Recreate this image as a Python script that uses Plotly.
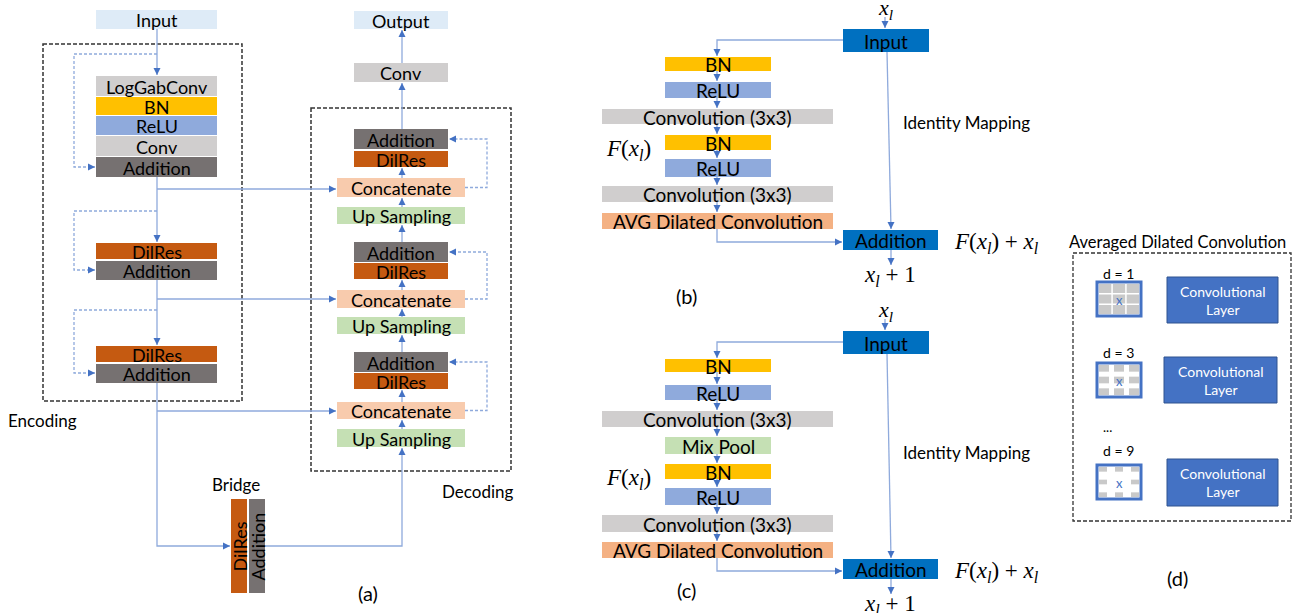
import plotly.graph_objects as go

# ---------------- data: labels of the diagram ----------------
enc_labels = ["LogGabConv", "BN", "ReLU", "Conv", "Addition"]
res_labels = ["DilRes", "Addition"]
dec_labels = ["Addition", "DilRes", "Concatenate", "Up Sampling"]
io_labels = ["Input", "Conv", "Output"]
bridge_labels = ["DilRes", "Addition"]
section_labels = ["Encoding", "Decoding", "Bridge"]
b_labels = ["BN", "ReLU", "Convolution (3x3)", "BN", "ReLU",
            "Convolution (3x3)", "AVG Dilated Convolution"]
c_labels = ["BN", "ReLU", "Convolution (3x3)", "Mix Pool", "BN", "ReLU",
            "Convolution (3x3)", "AVG Dilated Convolution"]
res_io_labels = ["Input", "Addition", "Identity Mapping"]
d_title = "Averaged Dilated Convolution"
d_dilations = ["1", "3", "9"]
d_layer_label = "Convolutional<br>Layer"
panel_tags = ["(a)", "(b)", "(c)", "(d)"]

# ---------------- layout (pixel geometry) ----------------
W, H = 1299, 613
SANS = "Lato"
SERIF = "Liberation Serif"

COL = {
    "Input": "#DEEBF7", "Output": "#DEEBF7", "Conv": "#D0CECE", "LogGabConv": "#D0CECE",
    "BN": "#FFC000", "ReLU": "#8FAADC", "Addition": "#767171", "DilRes": "#C55A11",
    "Concatenate": "#F8CBAD", "Up Sampling": "#C5E0B4", "Convolution (3x3)": "#D0CECE",
    "AVG Dilated Convolution": "#F4B183", "Mix Pool": "#C5E0B4",
}
LINE = "#8FAADC"
ARROW = "#4472C4"
DARKBLUE = "#0070C0"
LAYERBLUE = "#4472C4"

shapes, annots = [], []


def rect(x0, y0, x1, y1, fill, lc=None, lw=0, dash=None):
    shapes.append(dict(type="rect", xref="x", yref="y", x0=x0, y0=y0, x1=x1, y1=y1,
                       fillcolor=fill, line=dict(color=lc or fill, width=lw, dash=dash)))


def text(x, y, s, size=18, color="#000", family=SANS, angle=0, xanchor="center"):
    annots.append(dict(x=x, y=y, xref="x", yref="y", text=s, showarrow=False,
                       font=dict(size=size, color=color, family=family),
                       textangle=angle, xanchor=xanchor, yanchor="middle", borderpad=0))


def box(x0, y0, x1, y1, label, size=18, fill=None, color="#000", angle=0):
    rect(x0, y0, x1, y1, fill or COL[label])
    text((x0 + x1) / 2, (y0 + y1) / 2 + 0.5, label, size=size, color=color, angle=angle)


def poly(pts, color=LINE, width=1.3, dash=None):
    path = "M " + " L ".join(f"{x},{y}" for x, y in pts)
    shapes.append(dict(type="path", xref="x", yref="y", path=path,
                       line=dict(color=color, width=width, dash=dash)))


def head(x, y, d, L=7, w=3.5):
    if d == "down":
        p = [(x, y), (x - w, y - L), (x + w, y - L)]
    elif d == "up":
        p = [(x, y), (x - w, y + L), (x + w, y + L)]
    elif d == "right":
        p = [(x, y), (x - L, y - w), (x - L, y + w)]
    else:
        p = [(x, y), (x + L, y - w), (x + L, y + w)]
    path = "M " + " L ".join(f"{a},{b}" for a, b in p) + " Z"
    shapes.append(dict(type="path", xref="x", yref="y", path=path,
                       fillcolor=ARROW, line=dict(color=ARROW, width=0)))


def arrow(pts, d, dash=None):
    poly(pts, dash=dash)
    head(pts[-1][0], pts[-1][1], d)


DASH = "3px,2px"

# ======================= panel (a) =======================
rect(43, 44, 242, 401, "rgba(0,0,0,0)", "#333333", 1.5, "4px,2px")
rect(311, 108, 511, 471, "rgba(0,0,0,0)", "#333333", 1.5, "4px,2px")

EX0, EX1, EXC = 96, 217, 157
box(EX0, 10, EX1, 29, io_labels[0])
enc_y = [(76, 96), (97, 115), (116, 135), (136, 156), (157, 177)]
for lab, (y0, y1) in zip(enc_labels, enc_y):
    box(EX0, y0, EX1, y1, lab)
res_y = [[(243, 259), (261, 280)], [(346, 362), (364, 383)]]
for blk in res_y:
    for lab, (y0, y1) in zip(res_labels, blk):
        box(EX0, y0, EX1, y1, lab)

arrow([(EXC, 29), (EXC, 75)], "down")
arrow([(EXC, 177), (EXC, 242)], "down")
arrow([(EXC, 280), (EXC, 345)], "down")
arrow([(EXC, 383), (EXC, 546), (230, 546)], "right")
for ytop, yadd in [(54, 167), (211, 270), (310, 373)]:
    poly([(EXC, ytop), (74, ytop), (74, yadd), (95, yadd)], dash=DASH)
    head(95, yadd, "right")

DN0, DN1, DW0, DW1, DC = 354, 448, 337, 465, 402
box(DN0, 11, DN1, 29, io_labels[2])
box(DN0, 63, DN1, 82, io_labels[1])
dec_y = [
    [(129, 149), (151, 167), (178, 197), (207, 224)],
    [(242, 262), (263, 279), (290, 308), (317, 334)],
    [(352, 372), (373, 389), (402, 419), (429, 447)],
]
for grp in dec_y:
    for lab, (y0, y1) in zip(dec_labels, grp):
        if lab in ("Concatenate", "Up Sampling"):
            box(DW0, y0, DW1, y1, lab)
        else:
            box(DN0, y0, DN1, y1, lab)

arrow([(DC, 63), (DC, 30)], "up")
arrow([(DC, 129), (DC, 83)], "up")
for i, grp in enumerate(dec_y):
    (a0, a1), (d0, d1), (c0, c1), (u0, u1) = grp
    arrow([(DC, c0), (DC, d1 + 1)], "up")
    arrow([(DC, u0), (DC, c1 + 1)], "up")
    if i + 1 < len(dec_y):
        arrow([(DC, dec_y[i + 1][0][0]), (DC, u1 + 1)], "up")
    cy, ay = (c0 + c1) / 2, (a0 + a1) / 2
    poly([(DW1, cy), (487, cy), (487, ay), (450, ay)], dash=DASH)
    head(449, ay, "left")

for y in (189, 299, 411):
    arrow([(EXC, y), (DW0 - 1, y)], "right")

box(231, 499, 247, 593, bridge_labels[0], angle=-90)
box(249, 499, 265, 593, bridge_labels[1], angle=-90)
arrow([(265, 546), (DC, 546), (DC, 448)], "up")

text(42, 420, section_labels[0], size=17)
text(477, 491, section_labels[1], size=17)
text(236, 484, section_labels[2], size=17)
text(368, 593, panel_tags[0], size=20)

# ======================= panels (b) and (c) =======================
NX0, NX1, WX0, WX1, MX = 665, 771, 602, 833, 717
IX0, IX1, AX1 = 843, 929, 938


def res_panel(labels, ys, top, addy, linky, tag, tagy, imy, fy):
    text(885, top - 20, "<i>x<sub>l</sub></i>", size=22, family=SERIF)
    arrow([(885, top - 12), (885, top - 1)], "down")
    rect(IX0, top, IX1, top + 23, DARKBLUE)
    text((IX0 + IX1) / 2, top + 12, res_io_labels[0], size=19)
    arrow([(IX0, top + 11), (MX, top + 11), (MX, ys[0][0] - 1)], "down")
    for i, (lab, (y0, y1)) in enumerate(zip(labels, ys)):
        wide = lab.startswith("Conv") or lab.startswith("AVG")
        box(WX0 if wide else NX0, y0, WX1 if wide else NX1, y1, lab, size=19)
        if i + 1 < len(ys):
            arrow([(MX, y1), (MX, ys[i + 1][0] - 1)], "down")
    arrow([(MX, ys[-1][1]), (MX, linky), (IX0 - 1, linky)], "right")
    arrow([(887, top + 23), (891, addy - 1)], "down")
    text(966, imy, res_io_labels[2], size=17)
    rect(IX0, addy, AX1, addy + 20, DARKBLUE)
    text((IX0 + AX1) / 2, addy + 10.5, res_io_labels[1], size=19)
    arrow([(891, addy + 20), (891, addy + 35)], "down")
    text(890, addy + 46, "<i>x<sub>l</sub></i> + 1", size=23, family=SERIF)
    text(996, addy + 13, "<i>F</i>(<i>x<sub>l</sub></i>) + <i>x<sub>l</sub></i>", size=23, family=SERIF)
    text(628, fy, "<i>F</i>(<i>x<sub>l</sub></i>)", size=23, family=SERIF)
    text(686, tagy, tag, size=20)


b_y = [(57, 71), (82, 98), (109, 124), (135, 150), (159, 177), (186, 202), (213, 229)]
res_panel(b_labels, b_y, 29, 230, 242, panel_tags[1], 296, 122, 150)
c_y = [(359, 372), (385, 400), (411, 427), (437, 454), (464, 479), (488, 505),
       (515, 532), (542, 558)]
res_panel(c_labels, c_y, 331, 559, 571, panel_tags[2], 590, 452, 479)

# ======================= panel (d) =======================
text(1177, 242, d_title, size=16.5)
rect(1073, 253, 1291, 521, "rgba(0,0,0,0)", "#333333", 1.3, "4px,2px")
icon_y = [282, 363, 465]
dlabel_y = [273, 352, 450]
layer_boxes = [(1167, 277, 1278, 323), (1164, 357, 1277, 403), (1167, 459, 1278, 506)]
gaps = [1.5, 5.0, 8.0]
for k, dv in enumerate(d_dilations):
    iy = icon_y[k]
    text(1118, dlabel_y[k], f"d = {dv}", size=14)
    ix0, ix1, iy0, iy1 = 1097, 1141, iy, iy + 34
    rect(ix0, iy0, ix1, iy1, "white", LAYERBLUE, 3)
    inx0, inx1, iny0, iny1 = ix0 + 2, ix1 - 2, iy0 + 2, iy1 - 2
    g = gaps[k]
    cw = (inx1 - inx0 - 2 * g) / 3
    ch = (iny1 - iny0 - 2 * g) / 3
    for r in range(3):
        for c in range(3):
            if k == 2 and r == 1 and c == 1:
                continue
            x0 = inx0 + c * (cw + g)
            y0 = iny0 + r * (ch + g)
            rect(x0, y0, x0 + cw, y0 + ch, "#C9C9C9")
    text((ix0 + ix1) / 2, (iy0 + iy1) / 2 + 1, "x", size=13, color=LAYERBLUE)
    lx0, ly0, lx1, ly1 = layer_boxes[k]
    rect(lx0, ly0, lx1, ly1, LAYERBLUE, "#2F528F", 1)
    text((lx0 + lx1) / 2, (ly0 + ly1) / 2, d_layer_label, size=14, color="white")
text(1107, 427, "...", size=13)
text(1177, 578, panel_tags[3], size=20)

fig = go.Figure()
fig.update_layout(
    width=W, height=H, autosize=False,
    margin=dict(l=0, r=0, t=0, b=0),
    paper_bgcolor="white", plot_bgcolor="white",
    xaxis=dict(range=[0, W], visible=False, fixedrange=True),
    yaxis=dict(range=[H, 0], visible=False, fixedrange=True),
    shapes=shapes, annotations=annots, showlegend=False,
)
fig.write_html(
    "out.html",
    config={"displayModeBar": False},
    post_script="document.body.style.margin='0px';document.body.style.overflow='hidden';",
)
